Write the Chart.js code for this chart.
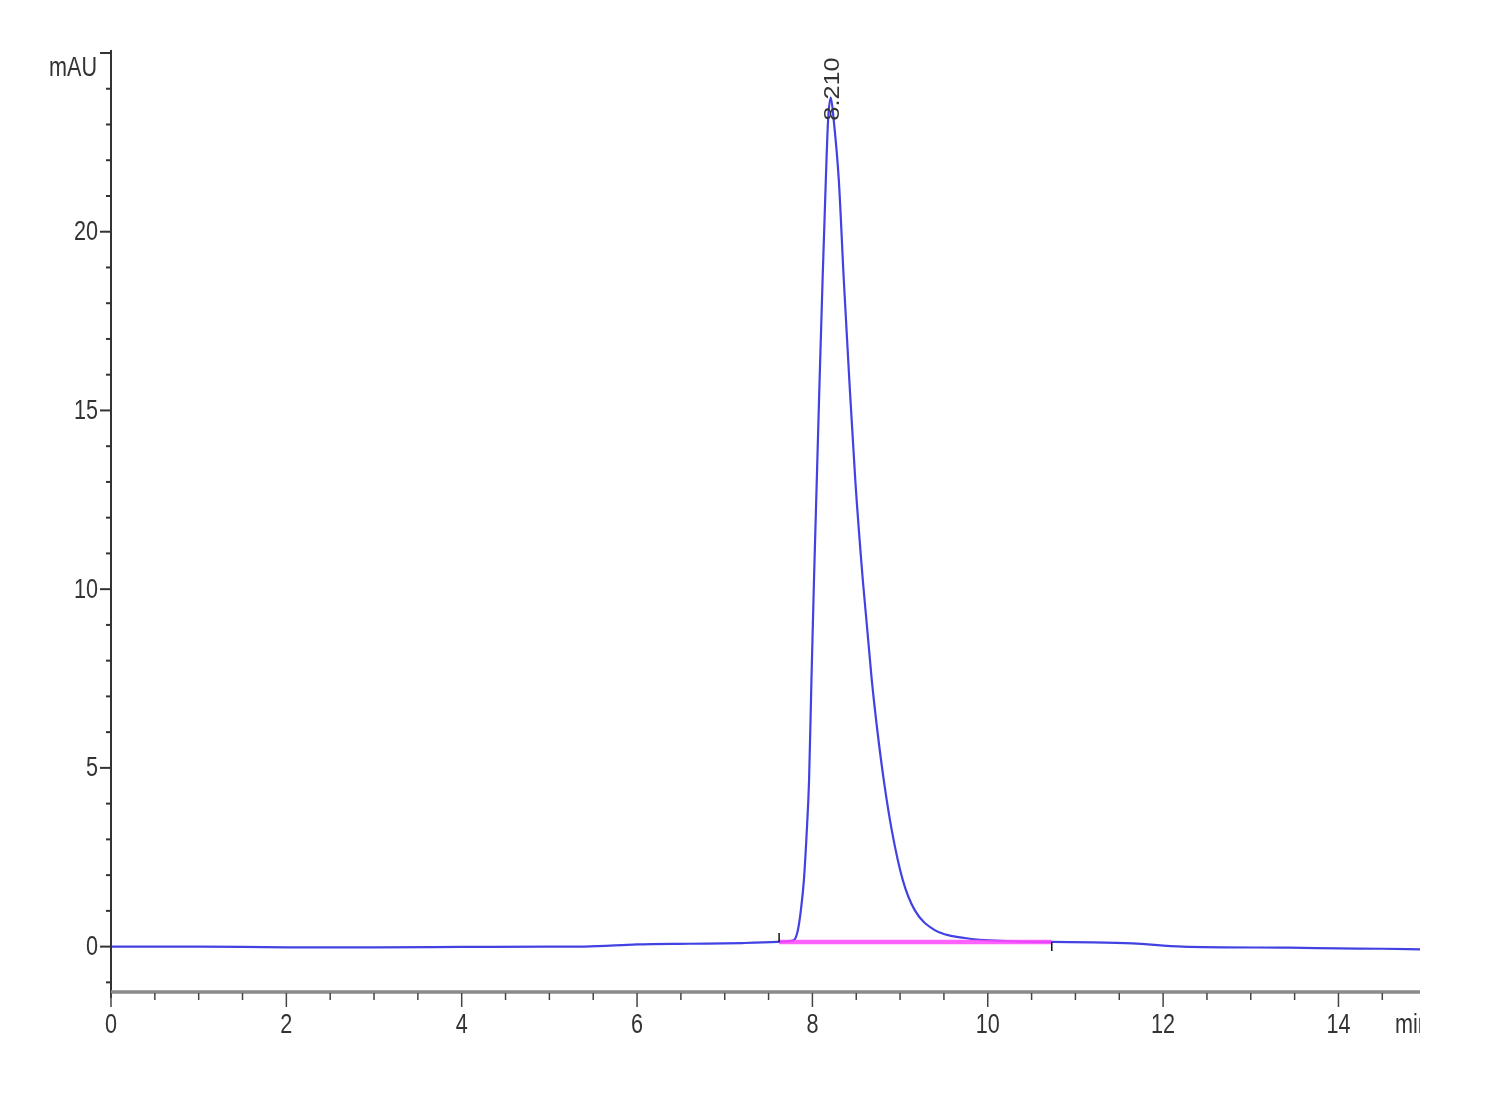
<!DOCTYPE html>
<html><head><meta charset="utf-8">
<script src="https://cdn.jsdelivr.net/npm/chart.js@4/dist/chart.umd.min.js"></script>
<style>html,body{margin:0;padding:0;background:#fff;}</style>
</head><body>
<canvas id="c" width="1500" height="1100"></canvas>
<script>
// ---- data ----
const timeMin = [0.00, 1.00, 2.00, 3.00, 4.00, 5.00, 5.40, 6.00, 6.60, 7.20, 7.60, 7.72, 7.788, 7.834, 7.870, 7.903, 7.933, 7.962, 7.989, 8.018, 8.050, 8.082, 8.116, 8.153, 8.179, 8.210, 8.240, 8.301, 8.358, 8.421, 8.489, 8.575, 8.677, 8.740, 8.814, 8.905, 9.031, 9.167, 9.396, 9.738, 10.25, 10.73, 11.20, 11.65, 12.22, 13.44, 14.00, 14.50, 14.93];
const signalMAU = [0.00, 0.00, -0.02, -0.02, -0.01, 0.00, 0.00, 0.06, 0.08, 0.10, 0.13, 0.15, 0.18, 0.46, 1.05, 1.86, 3.10, 4.66, 7.46, 10.25, 13.05, 15.85, 18.65, 21.45, 23.13, 23.75, 23.20, 21.45, 18.65, 15.85, 13.05, 10.25, 7.46, 6.06, 4.66, 3.26, 1.86, 1.02, 0.46, 0.24, 0.15, 0.13, 0.12, 0.09, 0.00, -0.03, -0.05, -0.06, -0.08];
const baselineTime = [7.62, 10.73];
const baselineMAU = [0.13, 0.13];
const peakTime = 8.21;
const peakHeight = 23.75;
const peakLabel = '8.210';
const xMajorTicks = [0, 2, 4, 6, 8, 10, 12, 14];
const yMajorTicks = [0, 5, 10, 15, 20];
const xRange = [0, 14.93];
const yRange = [-1.27, 25];
const yUnit = 'mAU';
const xUnit = 'min';

const FONT = '"Liberation Sans", Arial, sans-serif';
const TXT = '#333333';
const SQUEEZE = 0.8;   // labels in the original are horizontally condensed

const tracePts = timeMin.map((t, i) => ({x: t, y: signalMAU[i]}));
const basePts = baselineTime.map((t, i) => ({x: t, y: baselineMAU[i]}));

function condensedText(ctx, text, x, y, align) {
  ctx.save();
  ctx.translate(x, y);
  ctx.scale(SQUEEZE, 1);
  ctx.textAlign = align;
  ctx.textBaseline = 'middle';
  ctx.fillText(text, 0, 0);
  ctx.restore();
}

const axesPlugin = {
  id: 'hplcAxes',
  afterDraw(chart) {
    const ctx = chart.ctx;
    const xs = chart.scales.x, ys = chart.scales.y;
    const ax = xs.left, ay = ys.bottom;
    ctx.save();
    // y axis line
    ctx.strokeStyle = '#333';
    ctx.lineWidth = 2;
    ctx.beginPath(); ctx.moveTo(ax, ys.top - 3); ctx.lineTo(ax, ay + 6); ctx.stroke();
    // y ticks + labels
    ctx.fillStyle = TXT;
    ctx.font = '27px ' + FONT;
    ys.ticks.forEach(t => {
      const p = ys.getPixelForValue(t.value);
      const major = Math.abs(t.value % 5) < 1e-9;
      ctx.beginPath(); ctx.moveTo(ax - (major ? 11 : 5), p); ctx.lineTo(ax, p); ctx.stroke();
      if (yMajorTicks.includes(t.value)) condensedText(ctx, t.label, ax - 13, p + 1, 'right');
    });
    // x axis line
    ctx.strokeStyle = '#8a8a8a';
    ctx.lineWidth = 3.5;
    ctx.beginPath(); ctx.moveTo(ax, ay); ctx.lineTo(xs.right, ay); ctx.stroke();
    // x ticks + labels
    ctx.strokeStyle = '#444';
    ctx.lineWidth = 1.5;
    xs.ticks.forEach(t => {
      const p = xs.getPixelForValue(t.value);
      const major = Math.abs(t.value % 2) < 1e-9;
      ctx.beginPath(); ctx.moveTo(p, ay + 1); ctx.lineTo(p, ay + (major ? 15 : 8)); ctx.stroke();
      if (xMajorTicks.includes(t.value)) condensedText(ctx, t.label, p, ay + 34, 'center');
    });
    // unit labels
    condensedText(ctx, yUnit, ax - 14, ys.getPixelForValue(yRange[1]) + 16, 'right');
    ctx.save();
    ctx.beginPath(); ctx.rect(0, 0, xs.right, chart.height); ctx.clip();
    condensedText(ctx, xUnit, xs.right - 25, ay + 34, 'left');
    ctx.restore();
    // integration baseline end marks
    ctx.strokeStyle = '#111';
    ctx.lineWidth = 1.5;
    const bx0 = xs.getPixelForValue(baselineTime[0]), by0 = ys.getPixelForValue(baselineMAU[0]);
    const bx1 = xs.getPixelForValue(baselineTime[1]), by1 = ys.getPixelForValue(baselineMAU[1]);
    ctx.beginPath(); ctx.moveTo(bx0, by0 - 9); ctx.lineTo(bx0, by0); ctx.stroke();
    ctx.beginPath(); ctx.moveTo(bx1, by1); ctx.lineTo(bx1, by1 + 9); ctx.stroke();
    // peak label (rotated)
    const px = xs.getPixelForValue(peakTime), py = ys.getPixelForValue(peakHeight);
    ctx.translate(px + 2, py);
    ctx.rotate(-Math.PI / 2);
    ctx.scale(1.15, 1);
    ctx.font = '22px ' + FONT;
    ctx.textAlign = 'left'; ctx.textBaseline = 'middle';
    ctx.fillStyle = '#333';
    ctx.fillText(peakLabel, -20, 0);
    ctx.restore();
  }
};

new Chart(document.getElementById('c'), {
  type: 'line',
  data: {
    datasets: [
      {data: basePts, borderColor: 'rgba(255,70,255,0.85)', borderWidth: 4.5, pointRadius: 0, order: 0},
      {data: tracePts, borderColor: 'rgb(66,66,226)', borderWidth: 2.2, pointRadius: 0, cubicInterpolationMode: 'monotone', order: 1}
    ]
  },
  options: {
    responsive: false, animation: false, devicePixelRatio: 1,
    layout: {padding: {left: 0, right: 80, top: 53, bottom: 0}},
    plugins: {legend: {display: false}, tooltip: {enabled: false}},
    scales: {
      x: {
        type: 'linear', min: xRange[0], max: xRange[1],
        grid: {display: false}, border: {display: false},
        afterFit: s => { s.height = 108; },
        ticks: {
          display: false, stepSize: 0.5, autoSkip: false, includeBounds: false, maxRotation: 0,
          callback: v => String(v)
        }
      },
      y: {
        type: 'linear', min: yRange[0], max: yRange[1],
        grid: {display: false}, border: {display: false},
        afterFit: s => { s.width = 111; },
        ticks: {
          display: false, stepSize: 1, autoSkip: false, includeBounds: false,
          callback: v => String(v)
        }
      }
    }
  },
  plugins: [axesPlugin]
});
</script>
</body></html>
